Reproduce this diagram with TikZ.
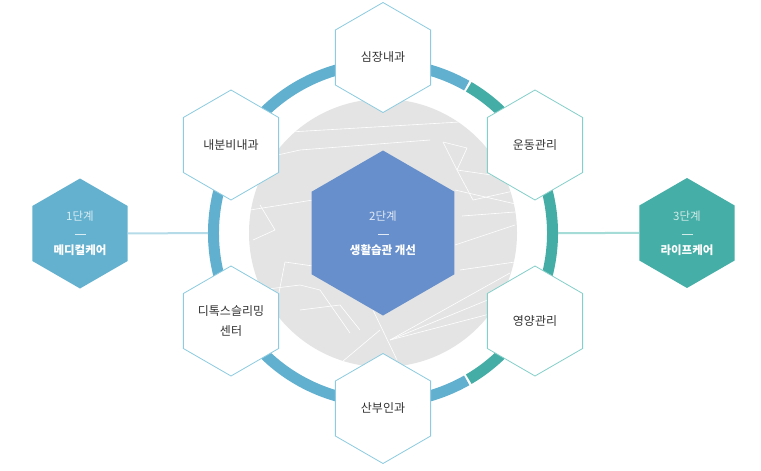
\documentclass[tikz,border=0pt]{standalone}
\usepackage{fontspec}
\setmainfont{Noto Sans CJK KR}
\usetikzlibrary{shapes.geometric}

\definecolor{ringblue}{HTML}{62B0CF}
\definecolor{ringteal}{HTML}{44ADA5}
\definecolor{hexblue}{HTML}{64B1CF}
\definecolor{hexteal}{HTML}{45AEA6}
\definecolor{hexmid}{HTML}{678FCB}
\definecolor{discgray}{HTML}{E4E4E4}
\definecolor{edgeblue}{HTML}{8CCBE0}
\definecolor{edgeteal}{HTML}{85CFC9}
\definecolor{linkblue}{HTML}{B6DBE8}
\definecolor{linkteal}{HTML}{A6DCD8}
\definecolor{labeltext}{HTML}{333333}

\tikzset{
  hexbase/.style  = {regular polygon, regular polygon sides=6, shape border rotate=30,
                     inner sep=0pt, align=center, font=\fontsize{12}{20.5}\selectfont},
  dept/.style     = {hexbase, minimum size=110pt, fill=white, draw=edgeblue,
                     line width=0.8pt, text=labeltext},
  deptr/.style    = {dept, draw=edgeteal},
  stage/.style    = {hexbase, minimum size=110pt, text=white, font=\fontsize{11.5}{18}\selectfont},
  core/.style     = {hexbase, minimum size=165pt, fill=hexmid, text=white,
                     font=\fontsize{11.5}{18}\selectfont},
  ring/.style     = {line width=11pt},
  link/.style     = {line width=2pt},
  crack/.style    = {white, line width=0.6pt}
}

\newcommand{\steptag}[2]{\textcolor{#1}{#2}\\\textcolor{#1}{\rule[3.5pt]{11pt}{0.7pt}}}

\begin{document}
\begin{tikzpicture}[x=1pt, y=-1pt]
 \useasboundingbox[fill=white] (0,0) rectangle (761,471);

 % gray disc with cracks
 \coordinate (c) at (383,233);
 \fill[discgray] (c) circle[radius=134];
 \begin{scope}
  \clip (c) circle[radius=134];
  \draw[crack] (290,132) -- (460,122) -- (520,118);
  \draw[crack] (255,160) -- (300,150) -- (430,140);
  \draw[crack] (443,142) -- (467,148) -- (457,170) -- (473,200) -- (518,190);
  \draw[crack] (443,142) -- (457,170) -- (512,178);
  \draw[crack] (455,190) -- (520,205);
  \draw[crack] (462,216) -- (515,212);
  \draw[crack] (455,245) -- (515,225);
  \draw[crack] (460,270) -- (515,262);
  \draw[crack] (250,210) -- (313,200);
  \draw[crack] (260,205) -- (275,230) -- (253,240);
  \draw[crack] (285,262) -- (313,266);
  \draw[crack] (285,262) -- (273,323);
  \draw[crack] (260,290) -- (300,285) -- (320,290) -- (350,333);
  \draw[crack] (300,310) -- (340,305) -- (360,330);
  \draw[crack] (373,310) -- (397,360);
  \draw[crack] (390,340) -- (510,273);
  \draw[crack] (390,340) -- (512,290);
  \draw[crack] (390,340) -- (505,310);
  \draw[crack] (380,330) -- (330,372);
 \end{scope}

 % outer ring
 \draw[ring, ringblue] (c) ++(60.4:169.5) arc[start angle=60.4, end angle=299.6, radius=169.5];
 \draw[ring, ringteal] (c) ++(-59.6:169.5) arc[start angle=-59.6, end angle=59.6, radius=169.5];

 % stages
 \node[core] (care2) at (c) {\steptag{white!80!hexmid}{2단계}\\[-2pt]\textbf{생활습관 개선}};
 \node[stage, fill=hexblue] (care1) at (80,233.5) {\steptag{white!75!hexblue}{1단계}\\[-2pt]\textbf{메디컬케어}};
 \node[stage, fill=hexteal] (care3) at (687,233) {\steptag{white!75!hexteal}{3단계}\\[-2pt]\textbf{라이프케어}};

 \coordinate (ringW) at (208,233);
 \coordinate (ringE) at (558,233);
 \draw[link, linkblue] (care1.east) -- (ringW);
 \draw[link, linkteal] (ringE) -- (care3.west);

 % departments
 \node[dept]  (heart)  at (383,57.5)  {심장내과};
 \node[deptr] (sport)  at (535,145)   {운동관리};
 \node[deptr] (food)   at (535,321)   {영양관리};
 \node[dept]  (obgyn)  at (383,408.5) {산부인과};
 \node[dept]  (detox)  at (231,321)   {디톡스슬리밍\\센터};
 \node[dept]  (endo)   at (231,145)   {내분비내과};
\end{tikzpicture}
\end{document}
